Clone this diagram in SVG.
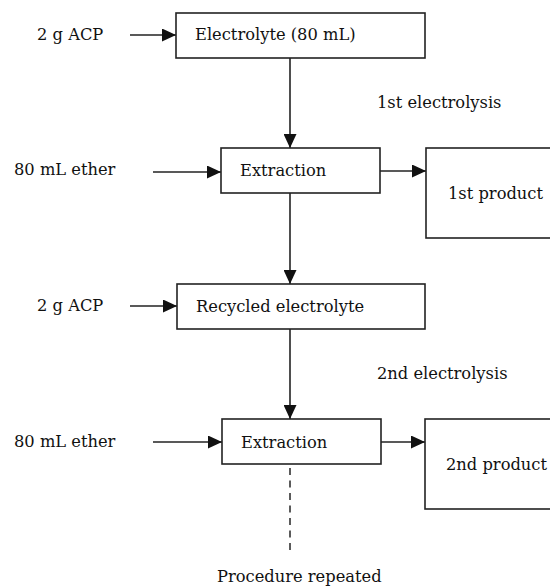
<svg xmlns="http://www.w3.org/2000/svg" width="550" height="586" viewBox="0 0 550 586">
<style>
.box{fill:#fff;stroke:#222;stroke-width:1.6}
.lbl{font-family:"DejaVu Serif",serif;font-size:16.3px;fill:#111}
.ln{stroke:#222;stroke-width:1.6;fill:none}
.dash{stroke:#333;stroke-width:1.6;fill:none;stroke-dasharray:7 5.5}
</style>
<defs>
<marker id="ah" markerUnits="userSpaceOnUse" markerWidth="14" markerHeight="13" viewBox="0 0 14 13" refX="14" refY="6.5" orient="auto">
<path d="M0,0 L14,6.5 L0,13 Z" fill="#111"/>
</marker>
</defs>
<rect width="550" height="586" fill="#fff"/>
<g id="connectors">
<line class="ln" x1="130" y1="35" x2="176" y2="35" marker-end="url(#ah)"/>
<line class="ln" x1="290" y1="58" x2="290" y2="148" marker-end="url(#ah)"/>
<line class="ln" x1="153" y1="172" x2="221" y2="172" marker-end="url(#ah)"/>
<line class="ln" x1="380" y1="171" x2="426" y2="171" marker-end="url(#ah)"/>
<line class="ln" x1="290" y1="193" x2="290" y2="284" marker-end="url(#ah)"/>
<line class="ln" x1="130" y1="306" x2="177" y2="306" marker-end="url(#ah)"/>
<line class="ln" x1="290" y1="329" x2="290" y2="419" marker-end="url(#ah)"/>
<line class="ln" x1="153" y1="442" x2="222" y2="442" marker-end="url(#ah)"/>
<line class="ln" x1="381" y1="442" x2="425" y2="442" marker-end="url(#ah)"/>
<line class="dash" x1="290" y1="468" x2="290" y2="552"/>
</g>
<g id="n-acp1"><text class="lbl" x="37" y="40">2 g ACP</text></g>
<g id="n-electrolyte"><rect class="box" x="176" y="13" width="249" height="45"/><text class="lbl" x="195" y="40">Electrolyte (80 mL)</text></g>
<g id="n-e1label"><text class="lbl" x="377" y="108">1st electrolysis</text></g>
<g id="n-ether1"><text class="lbl" x="14" y="175">80 mL ether</text></g>
<g id="n-extraction1"><rect class="box" x="221" y="148" width="159" height="45"/><text class="lbl" x="240" y="176">Extraction</text></g>
<g id="n-product1"><rect class="box" x="426" y="148" width="150" height="90"/><text class="lbl" x="448" y="199">1st product</text></g>
<g id="n-acp2"><text class="lbl" x="37" y="311">2 g ACP</text></g>
<g id="n-recycled"><rect class="box" x="177" y="284" width="248" height="45"/><text class="lbl" x="196" y="312">Recycled electrolyte</text></g>
<g id="n-e2label"><text class="lbl" x="377" y="379">2nd electrolysis</text></g>
<g id="n-ether2"><text class="lbl" x="14" y="447">80 mL ether</text></g>
<g id="n-extraction2"><rect class="box" x="222" y="419" width="159" height="45"/><text class="lbl" x="241" y="448">Extraction</text></g>
<g id="n-product2"><rect class="box" x="425" y="419" width="150" height="90"/><text class="lbl" x="446" y="470">2nd product</text></g>
<g id="n-repeat"><text class="lbl" x="217" y="582">Procedure repeated</text></g>
</svg>
